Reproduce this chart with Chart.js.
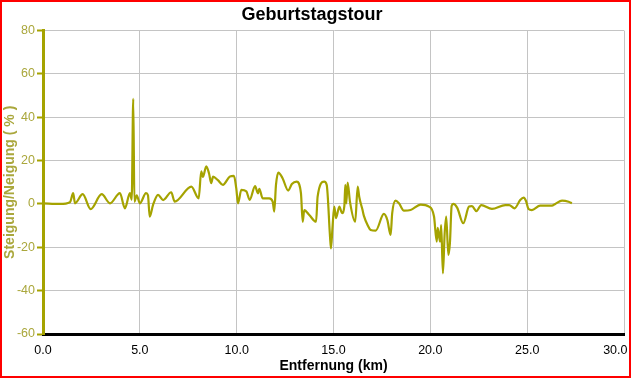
<!DOCTYPE html>
<html>
<head>
<meta charset="utf-8">
<script src="https://cdn.jsdelivr.net/npm/chart.js@4/dist/chart.umd.min.js"></script>
<style>
html,body{margin:0;padding:0;background:#fff;}
#wrap{width:631px;height:378px;position:relative;}
</style>
</head>
<body>
<div id="wrap"><canvas id="c" width="631" height="378"></canvas></div>
<script>
const chartTitle = "Geburtstagstour";
const xAxisTitle = "Entfernung (km)";
const yAxisTitle = "Steigung/Neigung ( % )";
const xTickValues = [0, 5, 10, 15, 20, 25, 30];
const yTickValues = [-60, -40, -20, 0, 20, 40, 60, 80];

const distanceKm = [
  0.0, 0.88, 1.39, 1.56, 1.65, 2.05, 2.46, 3.03, 3.46, 3.97,
  4.23, 4.49, 4.58, 4.66, 4.72, 4.84, 5.0, 5.32, 5.42, 5.51,
  5.68, 5.94, 6.2, 6.62, 6.8, 7.66, 8.04, 8.17, 8.26, 8.43,
  8.57, 8.69, 8.78, 9.03, 9.29, 9.64, 9.86, 9.98, 10.07, 10.24,
  10.5, 10.67, 10.95, 11.1, 11.17, 11.34, 11.68, 11.86, 11.94, 12.03,
  12.15, 12.37, 12.66, 12.85, 13.1, 13.32, 13.41, 13.49, 13.75, 14.1,
  14.18, 14.52, 14.65, 14.82, 14.87, 14.95, 15.04, 15.13, 15.3, 15.44,
  15.56, 15.61, 15.66, 15.73, 15.85, 16.12, 16.25, 16.33, 16.5, 16.57,
  16.76, 16.92, 17.18, 17.6, 17.78, 17.95, 18.03, 18.21, 18.38, 18.64,
  18.98, 19.5, 19.93, 20.19, 20.33, 20.38, 20.5, 20.56, 20.65, 20.74,
  20.82, 20.93, 21.01, 21.1, 21.18, 21.39, 21.7, 22.0, 22.15, 22.38,
  22.63, 23.18, 23.87, 24.07, 24.35, 24.64, 24.82, 24.94, 25.07, 25.24,
  25.67, 26.28, 26.45, 26.8, 27.14, 27.31
];
const gradientPct = [
  0.3, 0, 0.8, 5, 0.3, 4.5, -2.4, 4.5, 0.3, 5,
  -2, 5, 2, 48.5, 1, 4, 0.3, 5, 4, -5.9,
  -0.5, 4.2, 1.8, 5.4, 1.1, 8, 2.6, 15, 12.5, 17.4,
  14.2, 9.6, 12.6, 11, 8.8, 12.6, 13, 7.2, 0.3, 6.5,
  5.8, 1.9, 8.2, 4.9, 7, 2.6, 2.6, 1.1, -3.5, 8.8,
  14.5, 11.9, 6.2, 9.2, 10.3, 4.9, -8.2, -2.8, -5.1, -8.2,
  3.4, 10.3, 8.8, -15, -20.5, -10.5, -1.2, -6.5, -1.2, -4.2,
  -1, 8.8, 0.3, 9.9, 1.1, -8.2, 8, 3.2, -2.8, -5.5,
  -9.7, -12, -12.3, -4.6, -7.4, -14.3, -4.3, 1.5, 0.3, -3.1,
  -2.8, -0.3, -1.2, -5.8, -17.4, -11, -17.4, -9.7, -32, -13.5,
  -5.8, -23.5, -18.2, -0.9, 0, -1.8, -8.9, -1.2, -1.0, -3.3,
  -0.5, -2.3, -0.5, -0.5, -2, 1.8, 2.9, 1.4, -2.3, -2.8,
  -0.8, -0.8, 0, 1.5, 1, 0.3
];

const points = distanceKm.map((x, i) => ({x: x, y: gradientPct[i]}));
const olive = '#a5a300';
const oliveText = '#aaa73c';
const fam = 'Liberation Sans, Arial, sans-serif';

const borderPlugin = {
  id: 'redFrame',
  beforeDraw(chart) {
    const ctx = chart.ctx;
    ctx.save();
    ctx.fillStyle = '#ffffff';
    ctx.fillRect(0, 0, chart.width, chart.height);
    ctx.restore();
  },
  afterDraw(chart) {
    const ctx = chart.ctx;
    ctx.save();
    ctx.strokeStyle = '#ff0000';
    ctx.lineWidth = 2;
    ctx.strokeRect(1, 1, chart.width - 2, chart.height - 2);
    ctx.restore();
  }
};

new Chart(document.getElementById('c'), {
  type: 'line',
  data: {
    datasets: [{
      data: points,
      borderColor: olive,
      borderWidth: 2.2,
      pointRadius: 0,
      fill: false,
      cubicInterpolationMode: 'monotone'
    }]
  },
  options: {
    responsive: false,
    animation: false,
    layout: {padding: {left: 0, right: 7, top: 0, bottom: 0}},
    plugins: {
      legend: {display: false},
      tooltip: {enabled: false},
      title: {
        display: true,
        text: chartTitle,
        color: '#000',
        font: {family: fam, size: 18, weight: 'bold'},
        padding: {top: 4, bottom: 5}
      }
    },
    scales: {
      x: {
        type: 'linear',
        min: 0, max: 30,
        afterBuildTicks: s => { s.ticks = xTickValues.map(v => ({value: v})); },
        afterFit: s => { s.height = 44; s.paddingLeft = 0; s.paddingRight = 0; },
        ticks: {
          color: '#000',
          font: {family: fam, size: 12.5},
          padding: 9,
          maxRotation: 0,
          autoSkip: false,
          callback: v => v === xTickValues[xTickValues.length - 1]
            ? Number(v).toFixed(1) + '     '
            : Number(v).toFixed(1)
        },
        grid: {color: '#c4c4c4', lineWidth: 1, drawTicks: false},
        border: {color: '#000', width: 3},
        title: {
          display: true,
          text: xAxisTitle,
          color: '#000',
          font: {family: fam, size: 14, weight: 'bold'},
          padding: {top: 0, bottom: 3}
        }
      },
      y: {
        min: -60, max: 80,
        afterBuildTicks: s => { s.ticks = yTickValues.map(v => ({value: v})); },
        afterFit: s => { s.width = 43; },
        ticks: {
          color: oliveText,
          font: {family: fam, size: 12.5},
          padding: 2,
          autoSkip: false
        },
        grid: {
          color: '#c4c4c4', lineWidth: 1, drawTicks: true, tickLength: 6,
          tickColor: olive, tickWidth: 2
        },
        border: {color: olive, width: 3},
        title: {
          display: true,
          text: yAxisTitle,
          color: oliveText,
          font: {family: fam, size: 14, weight: 'bold'},
          padding: {top: 2, bottom: 0}
        }
      }
    }
  },
  plugins: [borderPlugin]
});
</script>
</body>
</html>
